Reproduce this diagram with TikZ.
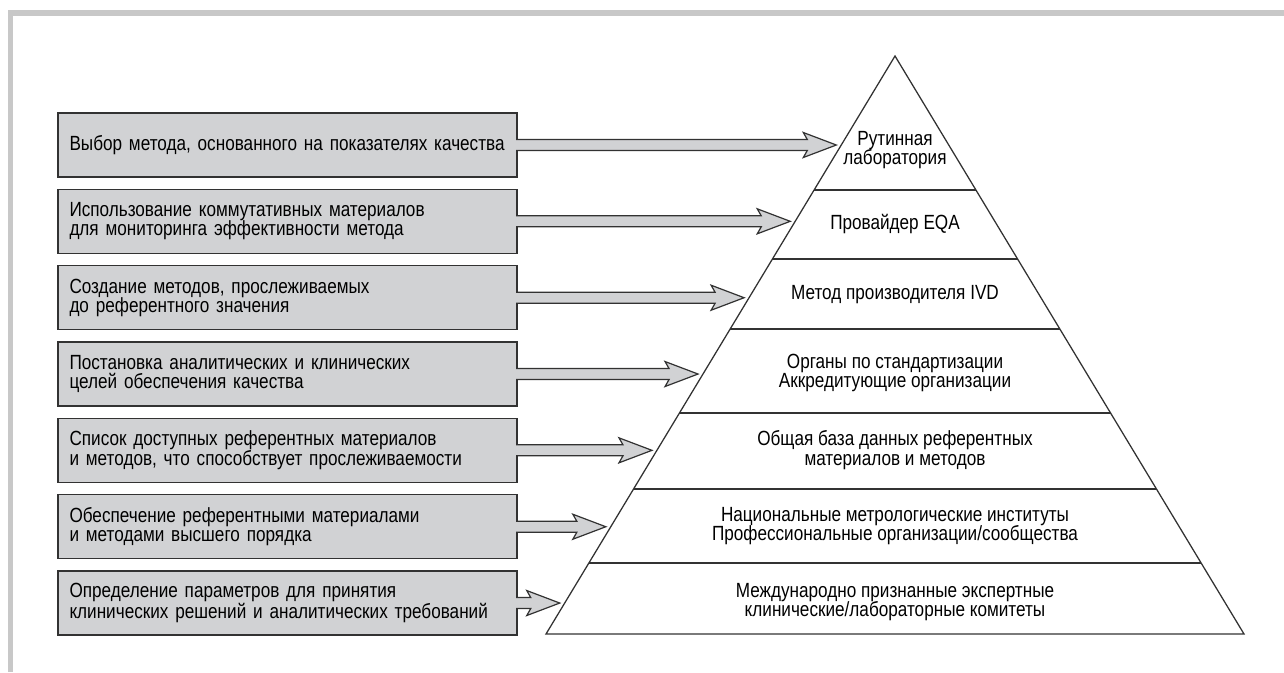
\documentclass[tikz,border=0pt]{standalone}
\usepackage{fontspec}
\setmainfont[FakeStretch=0.835]{Liberation Sans}
\usepackage{tikz}
\usetikzlibrary{calc}
\definecolor{pyrline}{RGB}{50, 50, 50}
\definecolor{goalfill}{RGB}{209, 210, 212}
\definecolor{framegray}{RGB}{200, 200, 200}
\newcommand{\pyrfont}{\fontsize{15.4}{14.5}\selectfont}
% fat grey arrow from a box edge to a tip coordinate
\newcommand{\fatarrow}[2]{%
  \filldraw[goalarrow] ($(#1)+(-1.5,-5.5)$) -- ($(#2)+(-29,-5.5)$)
    -- ($(#2)+(-33,-12.5)$) -- (#2) -- ($(#2)+(-33,12.5)$)
    -- ($(#2)+(-29,5.5)$) -- ($(#1)+(-1.5,5.5)$);}

\begin{document}
\begin{tikzpicture}[x=0.75pt, y=-0.75pt,
  goal/.style={draw=pyrline, fill=goalfill, line width=1.1pt,
    minimum width=344.25pt, minimum height=48pt, text width=327pt,
    inner xsep=8.6pt, align=left, font=\pyrfont},
  layer/.style={align=center, inner sep=0pt, font=\pyrfont},
  goalarrow/.style={draw=pyrline, fill=goalfill, line width=0.9pt,
    line join=miter}]

  \useasboundingbox (0,0) rectangle (1284,672);

  % --- frame (top and left edge only) ---
  \draw[framegray, line width=4.2pt] (10.5,672) -- (10.5,13) -- (1284,13);

  % --- pyramid ---
  \coordinate (apex) at (895,56);
  \coordinate (bl) at (546,634);
  \coordinate (br) at (1244,634);
  \draw[pyrline, line width=0.95pt, line join=miter] (apex) -- (bl) -- (br) -- cycle;
  \foreach \t in {0.2318, 0.3512, 0.4723, 0.6176, 0.7491, 0.8772}
    \draw[pyrline, line width=0.95pt] ($(apex)!\t!(bl)$) -- ($(apex)!\t!(br)$);

  % --- pyramid levels ---
  \node[layer] (l1) at (895,150) {Рутинная\\лаборатория};
  \node[layer] (l2) at (895,224) {Провайдер EQA};
  \node[layer] (l3) at (895,295) {Метод производителя IVD};
  \node[layer] (l4) at (895,373) {Органы по стандартизации\\Аккредитующие организации};
  \node[layer] (l5) at (895,450) {Общая база данных референтных\\материалов и методов};
  \node[layer] (l6) at (895,526) {Национальные метрологические институты\\Профессиональные организации/сообщества};
  \node[layer] (l7) at (895,602) {Международно признанные экспертные\\клинические/лабораторные комитеты};

  % --- tasks (grey boxes) ---
  \node[goal] (b1) at (287.5,145) {Выбор метода, основанного на показателях качества};
  \node[goal] (b2) at (287.5,221.3) {Использование коммутативных материалов\\для мониторинга эффективности метода};
  \node[goal] (b3) at (287.5,297.7) {Создание методов, прослеживаемых\\до референтного значения};
  \node[goal] (b4) at (287.5,374) {Постановка аналитических и клинических\\целей обеспечения качества};
  \node[goal] (b5) at (287.5,450.3) {Список доступных референтных материалов\\и методов, что способствует прослеживаемости};
  \node[goal] (b6) at (287.5,526.7) {Обеспечение референтными материалами\\и методами высшего порядка};
  \node[goal] (b7) at (287.5,603) {Определение параметров для принятия\\клинических решений и аналитических требований};

  % --- arrow tips, just short of the pyramid side ---
  \coordinate[xshift=-3.75pt] (t1) at (intersection of apex--bl and b1.west--b1.east);
  \coordinate[xshift=-3.75pt] (t2) at (intersection of apex--bl and b2.west--b2.east);
  \coordinate[xshift=-3.75pt] (t3) at (intersection of apex--bl and b3.west--b3.east);
  \coordinate[xshift=-3.75pt] (t4) at (intersection of apex--bl and b4.west--b4.east);
  \coordinate[xshift=-3.75pt] (t5) at (intersection of apex--bl and b5.west--b5.east);
  \coordinate[xshift=-3.75pt] (t6) at (intersection of apex--bl and b6.west--b6.east);
  \coordinate[xshift=-3.75pt] (t7) at (intersection of apex--bl and b7.west--b7.east);

  % --- arrows ---
  \fatarrow{b1.east}{t1}
  \fatarrow{b2.east}{t2}
  \fatarrow{b3.east}{t3}
  \fatarrow{b4.east}{t4}
  \fatarrow{b5.east}{t5}
  \fatarrow{b6.east}{t6}
  \fatarrow{b7.east}{t7}

\end{tikzpicture}
\end{document}
